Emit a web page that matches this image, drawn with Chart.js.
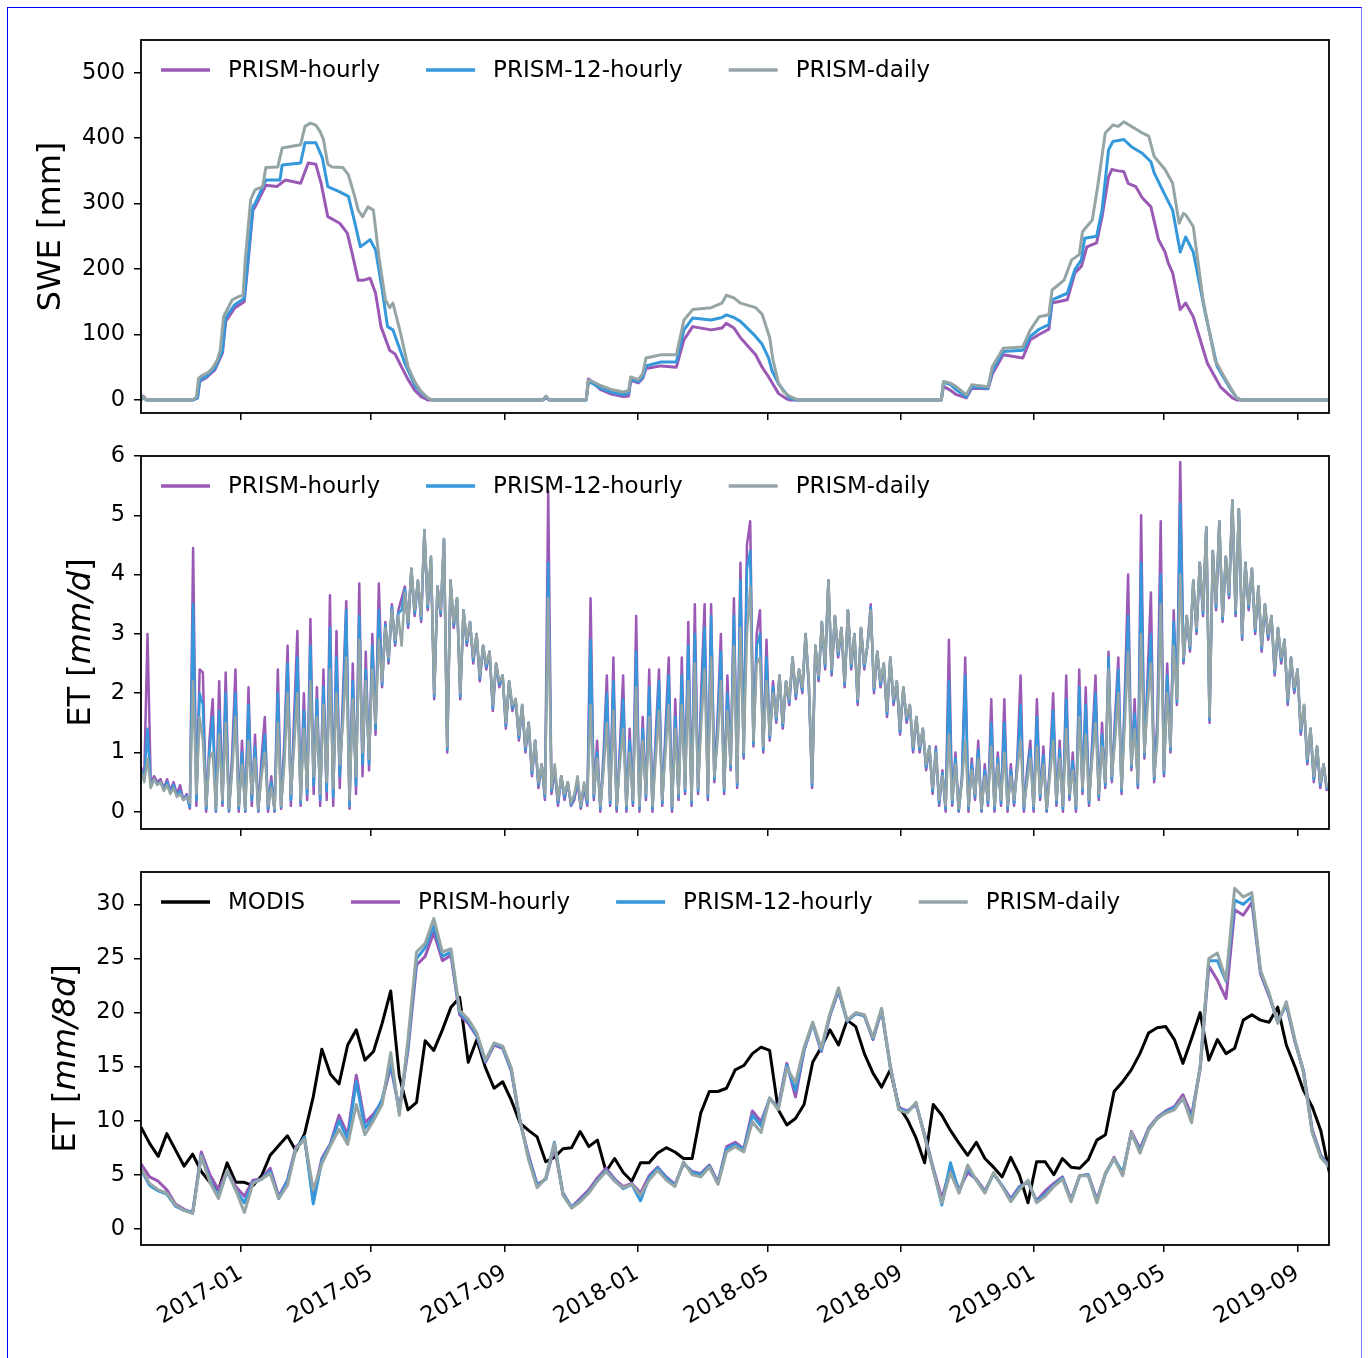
<!DOCTYPE html>
<html>
<head>
<meta charset="utf-8">
<script src="https://cdn.jsdelivr.net/npm/chart.js@4.4.0/dist/chart.umd.min.js"></script>
<style>
  body { margin: 0; background: #fff; }
  #page { position: relative; width: 1370px; height: 1358px; overflow: hidden; background: #fff; }
  #page canvas { position: absolute; left: 0; }
  #frame { position: absolute; left: 7px; top: 7px; width: 1353px; height: 1400px;
           border: 1px solid #0000ff; border-right-color: #7f7fff; }
</style>
</head>
<body>
<div id="page">
  <div id="frame"></div>
  <canvas id="sweChart" width="1370" height="432" style="top:0px"></canvas>
  <canvas id="etChart" width="1370" height="414" style="top:432px"></canvas>
  <canvas id="et8Chart" width="1370" height="512" style="top:846px"></canvas>
</div>
<script>
// x axis: days since 2016-10-01 (water years 2017-2019)
const tickDays = [92, 212, 335, 457, 577, 700, 822, 942, 1065];
const tickLabels = ['2017-01', '2017-05', '2017-09', '2018-01', '2018-05', '2018-09', '2019-01', '2019-05', '2019-09'];
const sweTicks = [0, 100, 200, 300, 400, 500];
const etTicks = [0, 1, 2, 3, 4, 5, 6];
const et8Ticks = [0, 5, 10, 15, 20, 25, 30];

const purple = '#9b59b6', blue = '#3498db', grey = '#95a5a6', black = '#000000';

// SWE [mm], [day, value]
const sweHourly = [[0,0],[2,6],[5,0],[48,0],[52,3],[54,28],[60,34],[68,46],[75,72],[78,120],[86,140],[95,150],[98,200],[103,290],[105,295],[115,328],[125,326],[133,336],[147,331],[154,362],[161,360],[166,330],[172,280],[183,270],[190,255],[195,220],[200,183],[205,183],[211,186],[216,163],[221,112],[229,76],[234,70],[240,50],[246,31],[252,15],[258,5],[264,0],
  [370,0],[373,3],[376,0],[410,0],[412,32],[416,27],[423,16],[433,9],[444,5],[449,6],[451,30],[458,26],[462,33],[465,48],[479,52],[493,50],[500,92],[508,112],[525,107],[535,110],[539,117],[546,110],[552,95],[566,69],[572,50],[578,35],[587,10],[594,2],[597,0],
  [737,0],[739,21],[745,15],[751,8],[760,3],[765,18],[780,17],[784,40],[794,69],[812,64],[819,92],[827,100],[836,108],[839,148],[853,153],[860,194],[866,204],[871,234],[880,240],[885,280],[891,341],[894,352],[900,350],[905,349],[909,331],[916,326],[922,309],[930,295],[937,245],[943,226],[946,209],[950,194],[957,138],[962,148],[969,127],[982,56],[994,20],[1005,3],[1009,0],[1094,0]];
const swe12h = [[0,0],[2,3],[5,0],[48,0],[52,3],[54,30],[60,36],[68,48],[75,75],[78,125],[86,145],[95,155],[98,205],[103,295],[105,300],[115,336],[128,336],[130,359],[147,362],[151,393],[161,393],[167,370],[172,326],[183,318],[191,311],[197,270],[202,234],[207,240],[211,245],[216,229],[222,170],[227,112],[232,107],[243,56],[253,20],[260,8],[265,2],[268,0],
  [370,0],[373,4],[376,0],[410,0],[412,28],[416,25],[423,18],[433,12],[444,8],[449,10],[451,32],[458,28],[462,35],[465,52],[479,58],[493,58],[500,107],[508,125],[525,122],[535,126],[539,130],[546,126],[552,120],[566,97],[572,85],[578,64],[581,45],[587,25],[597,3],[603,0],
  [737,0],[739,27],[745,24],[751,15],[760,5],[765,20],[780,18],[784,45],[794,74],[812,76],[819,97],[827,108],[836,115],[839,153],[853,163],[860,199],[866,214],[869,247],[880,250],[885,290],[891,382],[895,395],[905,398],[912,387],[922,377],[930,364],[933,347],[943,313],[950,290],[957,226],[962,249],[969,226],[980,133],[991,51],[1002,20],[1009,3],[1013,0],[1094,0]];
const sweDaily = [[0,0],[2,5],[5,0],[47,0],[51,4],[53,33],[57,38],[62,42],[66,49],[70,60],[73,76],[76,127],[80,140],[84,153],[90,158],[94,160],[96,214],[101,306],[105,321],[112,326],[115,355],[126,356],[130,385],[147,390],[151,418],[156,423],[161,420],[165,410],[168,398],[172,360],[176,356],[186,355],[191,344],[197,310],[200,290],[204,280],[209,295],[214,290],[219,220],[225,153],[229,141],[232,148],[239,102],[246,50],[252,28],[257,15],[264,3],[268,0],
  [370,0],[373,6],[376,0],[410,0],[412,30],[416,28],[423,22],[433,16],[444,12],[449,14],[451,35],[458,31],[462,40],[465,64],[479,69],[493,69],[500,122],[508,138],[525,141],[535,148],[539,160],[546,156],[552,148],[566,141],[572,131],[579,95],[582,61],[587,26],[592,12],[598,5],[605,0],
  [737,0],[739,28],[745,26],[751,20],[760,8],[765,23],[780,20],[784,51],[794,79],[812,81],[819,107],[827,127],[836,130],[839,168],[850,183],[857,214],[864,222],[867,257],[876,275],[881,326],[888,408],[895,420],[900,418],[905,425],[912,418],[918,412],[922,408],[928,403],[933,372],[943,352],[950,331],[956,270],[960,285],[962,283],[969,265],[978,153],[989,61],[999,31],[1009,3],[1013,0],[1094,0]];

// daily ET [mm/d], one value every 3 days
const etStep = 3;
const etHourly = [
  0.75,0.6,3.0,0.45,0.6,0.5,0.55,0.4,0.55,0.35,0.5,0.3,0.45,0.2,0.3,
  0.05,4.45,0.1,2.4,2.35,0.0,1.2,1.9,0.0,2.2,0.1,2.35,0.0,1.0,2.4,
  0.0,1.2,0.0,2.1,0.1,1.3,0.0,0.9,1.6,0.0,0.6,0.0,2.4,0.05,1.2,
  2.8,0.1,1.6,3.05,0.1,2.0,0.2,3.25,0.3,2.1,0.1,2.4,0.2,3.65,0.1,
  3.05,0.4,2.0,3.55,0.05,2.5,0.3,3.85,0.6,2.7,0.7,3.0,1.3,3.85,2.1,
  3.2,2.5,3.5,2.8,3.4,3.6,3.8,3.1,4.1,3.3,3.9,3.2,4.75,3.4,4.3,
  1.9,3.8,3.3,4.6,1.0,3.9,3.1,3.6,1.9,3.4,2.8,3.2,2.5,3.0,2.2,
  2.8,2.4,2.7,1.7,2.5,2.1,2.3,1.4,2.2,1.7,1.9,1.2,1.8,1.0,1.5,
  0.6,1.2,0.4,0.8,0.2,5.4,0.3,0.7,0.1,0.6,0.2,0.5,0.1,0.2,0.5,
  0.05,0.4,0.1,3.6,0.2,1.2,0.0,1.0,2.3,0.1,2.6,0.0,1.1,2.3,0.0,
  1.4,0.1,3.3,0.0,1.6,0.2,2.4,0.0,1.3,2.4,0.1,1.4,2.6,0.0,1.9,
  0.2,2.6,0.3,3.2,0.1,3.5,0.3,2.1,3.5,0.2,3.5,0.5,1.6,3.0,0.3,
  2.3,0.7,3.6,0.4,4.2,0.9,4.5,4.9,1.1,3.0,3.4,1.0,2.9,1.2,2.2,
  1.5,2.3,1.4,2.2,1.8,2.6,1.9,2.4,2.0,3.0,2.1,0.4,2.8,2.2,3.2,
  2.4,3.9,2.3,3.3,2.6,3.1,2.1,3.4,2.4,3.0,1.8,3.1,2.4,2.8,3.5,
  2.0,2.7,2.1,2.5,1.6,2.6,1.8,2.2,1.3,2.1,1.5,1.8,1.0,1.6,1.0,
  1.4,0.7,1.1,0.3,1.1,0.1,0.7,0.0,2.9,0.1,1.0,0.0,0.6,2.6,0.0,
  0.9,0.2,1.2,0.0,0.8,0.1,1.9,0.0,1.0,0.1,1.9,0.0,0.8,0.1,0.9,
  2.3,0.0,0.7,1.2,0.0,1.9,0.2,1.1,0.0,0.8,2.0,0.1,1.2,0.0,2.3,
  0.2,1.0,0.0,2.4,0.3,2.1,0.1,1.2,2.3,0.2,1.5,0.4,2.7,0.5,1.6,
  2.6,0.3,2.0,4.0,0.7,1.9,0.4,5.0,0.9,2.3,3.7,0.5,1.6,4.9,0.6,
  2.5,1.0,3.4,1.8,5.9,2.5,3.3,2.7,3.9,3.0,4.2,3.3,4.8,1.5,4.4,
  3.4,4.9,3.2,4.3,3.6,5.25,3.3,5.1,2.9,4.2,3.4,4.1,3.0,3.8,2.7,
  3.5,2.9,3.3,2.3,3.1,2.5,2.9,1.8,2.6,2.0,2.4,1.3,1.8,0.8,1.4,
  0.5,1.1,0.4,0.8,0.35];
const et12h = [
  0.7,0.55,1.4,0.42,0.55,0.48,0.5,0.38,0.5,0.32,0.45,0.27,0.35,0.2,0.27,
  0.08,3.5,0.2,2.0,1.8,0.05,1.0,1.6,0.02,1.7,0.15,2.0,0.02,0.8,2.0,
  0.05,1.0,0.02,1.8,0.2,1.1,0.02,0.7,1.3,0.05,0.5,0.02,2.0,0.08,1.0,
  2.5,0.2,1.3,2.6,0.15,1.7,0.3,2.8,0.45,1.9,0.2,2.1,0.35,3.1,0.25,
  2.6,0.6,1.7,3.4,0.1,2.2,0.45,3.3,0.8,2.4,0.8,2.8,1.4,3.4,2.15,
  3.15,2.55,3.45,2.85,3.35,3.4,3.75,3.15,4.1,3.35,3.9,3.25,4.75,3.45,4.3,
  1.95,3.8,3.35,4.6,1.05,3.9,3.15,3.6,1.95,3.4,2.85,3.2,2.55,3.0,2.25,
  2.8,2.45,2.7,1.75,2.5,2.15,2.3,1.45,2.2,1.75,1.9,1.25,1.8,1.05,1.5,
  0.65,1.2,0.45,0.8,0.25,4.2,0.35,0.75,0.15,0.6,0.25,0.5,0.12,0.25,0.55,
  0.08,0.45,0.15,2.9,0.25,1.0,0.05,0.85,2.0,0.15,2.2,0.05,0.95,1.9,0.05,
  1.2,0.15,2.7,0.05,1.4,0.25,2.1,0.05,1.1,2.2,0.15,1.2,2.3,0.05,1.6,
  0.25,2.3,0.35,2.8,0.15,3.0,0.35,1.8,3.1,0.25,3.3,0.55,1.4,2.7,0.35,
  2.0,0.75,3.3,0.45,3.9,0.95,4.1,4.4,1.15,2.8,3.0,1.05,2.6,1.25,2.1,
  1.55,2.3,1.45,2.2,1.85,2.6,1.95,2.4,2.05,3.0,2.15,0.45,2.8,2.25,3.2,
  2.45,3.9,2.35,3.3,2.65,3.1,2.15,3.4,2.45,3.0,1.85,3.1,2.45,2.8,3.45,
  2.05,2.7,2.15,2.5,1.65,2.6,1.85,2.2,1.35,2.1,1.55,1.8,1.05,1.6,1.05,
  1.4,0.75,1.1,0.35,1.05,0.15,0.65,0.05,2.2,0.15,0.9,0.02,0.55,2.3,0.05,
  0.8,0.25,1.05,0.02,0.7,0.15,1.5,0.05,0.9,0.15,1.5,0.05,0.7,0.15,0.8,
  1.8,0.05,0.6,1.05,0.05,1.6,0.25,0.95,0.02,0.7,1.7,0.15,1.05,0.05,1.9,
  0.25,0.85,0.05,2.1,0.35,1.8,0.15,1.05,2.0,0.25,1.3,0.45,2.6,0.55,1.4,
  2.4,0.35,1.8,3.3,0.75,1.65,0.45,4.2,0.95,2.1,3.0,0.55,1.4,4.0,0.65,
  2.3,1.05,3.2,1.85,5.2,2.55,3.3,2.75,3.9,3.05,4.2,3.35,4.8,1.55,4.4,
  3.45,4.9,3.25,4.3,3.65,5.25,3.35,5.1,2.95,4.2,3.45,4.1,3.05,3.8,2.75,
  3.5,2.95,3.3,2.35,3.1,2.55,2.9,1.85,2.6,2.05,2.4,1.35,1.8,0.85,1.4,
  0.55,1.1,0.45,0.8,0.38];
const etDaily = [
  0.7,0.5,0.9,0.4,0.55,0.45,0.5,0.35,0.45,0.3,0.4,0.25,0.3,0.2,0.25,
  0.15,2.2,0.3,1.6,1.2,0.1,0.9,1.0,0.05,1.3,0.2,1.5,0.05,0.7,1.6,
  0.1,0.8,0.05,1.2,0.3,0.9,0.05,0.6,1.0,0.1,0.4,0.05,1.5,0.1,0.8,
  2.0,0.3,1.1,2.0,0.2,1.4,0.4,2.2,0.6,1.6,0.3,1.8,0.5,2.4,0.4,
  2.0,0.8,1.5,2.6,0.2,1.9,0.6,2.9,1.0,2.2,0.9,2.4,1.5,2.9,2.2,
  3.1,2.6,3.4,2.9,3.3,2.8,3.7,3.2,4.1,3.4,3.9,3.3,4.75,3.5,4.3,
  2.0,3.8,3.4,4.6,1.1,3.9,3.2,3.6,2.0,3.4,2.9,3.2,2.6,3.0,2.3,
  2.8,2.5,2.7,1.8,2.5,2.2,2.3,1.5,2.2,1.8,1.9,1.3,1.8,1.1,1.5,
  0.7,1.2,0.5,0.8,0.3,3.6,0.4,0.8,0.2,0.6,0.3,0.5,0.15,0.3,0.6,
  0.1,0.5,0.2,1.8,0.3,0.9,0.1,0.7,1.5,0.2,1.7,0.1,0.8,1.4,0.1,
  1.0,0.2,2.1,0.1,1.2,0.3,1.6,0.1,0.9,1.7,0.2,1.0,1.8,0.1,1.4,
  0.3,1.8,0.4,2.2,0.2,2.5,0.4,1.5,2.4,0.3,2.6,0.6,1.2,2.2,0.4,
  1.7,0.8,2.8,0.5,3.1,1.0,3.0,3.8,1.2,2.5,2.6,1.1,2.2,1.3,2.0,
  1.6,2.3,1.5,2.2,1.9,2.6,2.0,2.4,2.1,3.0,2.2,0.5,2.8,2.3,3.2,
  2.5,3.9,2.4,3.3,2.7,3.1,2.2,3.4,2.5,3.0,1.9,3.1,2.5,2.8,3.4,
  2.1,2.7,2.2,2.5,1.7,2.6,1.9,2.2,1.4,2.1,1.6,1.8,1.1,1.6,1.1,
  1.4,0.8,1.1,0.4,1.0,0.2,0.6,0.1,1.3,0.2,0.8,0.05,0.5,1.2,0.1,
  0.7,0.3,0.9,0.05,0.6,0.2,1.1,0.1,0.8,0.2,1.0,0.1,0.6,0.2,0.7,
  1.2,0.1,0.5,0.9,0.1,1.1,0.3,0.8,0.05,0.6,1.2,0.2,0.9,0.1,1.4,
  0.3,0.7,0.1,1.6,0.4,1.3,0.2,0.9,1.5,0.3,1.1,0.5,2.4,0.6,1.2,
  2.0,0.4,1.5,2.7,0.8,1.4,0.5,3.0,1.0,1.8,2.5,0.6,1.2,3.5,0.7,
  2.0,1.1,2.8,1.9,4.0,2.6,3.3,2.8,3.9,3.1,4.2,3.4,4.8,1.6,4.4,
  3.5,4.9,3.3,4.3,3.7,5.25,3.4,5.1,3.0,4.2,3.5,4.1,3.1,3.8,2.8,
  3.5,3.0,3.3,2.4,3.1,2.6,2.9,1.9,2.6,2.1,2.4,1.4,1.8,0.9,1.4,
  0.6,1.1,0.5,0.8,0.4];

// 8-day ET [mm/8d], 46 composites per year
const et8Step = 7.93;
const et8Modis = [
  9.4,7.9,6.7,8.8,7.3,5.8,6.9,5.3,4.3,3.6,
  6.1,4.3,4.3,4.0,4.9,6.8,7.7,8.6,7.2,8.8,
  12.2,16.6,14.3,13.4,17.0,18.4,15.6,16.4,19.0,22.0,
  14.1,11.0,11.7,17.4,16.5,18.4,20.5,21.4,15.4,17.5,
  14.9,13.0,13.6,11.9,9.8,9.1,8.5,6.2,6.6,7.4,
  7.5,9.0,7.6,8.2,5.3,6.5,5.2,4.4,6.1,6.1,
  7.0,7.5,7.1,6.5,6.5,10.7,12.7,12.7,13.0,14.7,
  15.1,16.2,16.8,16.5,11.0,9.6,10.2,11.5,15.4,16.8,
  18.4,17.0,19.3,18.7,16.2,14.4,13.1,14.7,11.3,10.1,
  8.4,6.1,11.5,10.5,9.1,7.9,6.8,8.0,6.5,5.7,
  4.8,6.6,5.0,2.4,6.2,6.2,5.0,6.5,5.7,5.6,
  6.4,8.2,8.7,12.7,13.6,14.7,16.2,18.1,18.6,18.7,
  17.5,15.3,17.6,20.0,15.6,17.5,16.2,16.7,19.3,19.8,
  19.3,19.1,20.5,17.0,15.0,12.8,11.3,9.1,5.2];
const et8Hourly = [
  6.0,4.8,4.4,3.6,2.3,1.8,1.5,7.1,5.0,3.6,
  5.4,3.9,3.0,4.5,4.6,5.6,3.0,4.5,7.6,8.2,
  3.0,6.5,7.9,10.5,8.7,14.2,9.8,10.6,11.8,15.0,
  11.0,16.5,24.4,25.2,27.4,24.8,25.3,19.8,19.0,17.8,
  15.4,17.0,16.7,14.6,10.0,6.8,4.1,4.6,7.5,3.3,
  2.0,2.8,3.6,4.7,5.6,4.6,3.9,4.2,3.3,4.9,
  5.7,4.8,4.1,6.0,5.3,5.1,5.9,4.3,7.6,8.0,
  7.4,10.9,9.9,12.0,11.3,15.3,12.2,16.5,19.0,16.4,
  19.7,22.0,19.2,19.9,19.7,17.5,20.2,15.1,11.2,10.9,
  11.5,8.7,5.6,2.8,5.6,3.6,5.2,4.6,3.5,5.1,
  4.0,2.8,3.9,4.3,2.6,3.5,4.2,4.8,2.7,4.9,
  5.0,2.7,5.1,6.6,5.0,9.0,7.4,9.3,10.3,10.9,
  11.3,12.4,10.5,14.8,24.3,23.0,21.3,29.5,29.0,30.2,
  23.6,21.5,19.2,20.7,17.3,14.6,9.2,6.8,5.8];
const et812h = [
  5.5,4.0,3.5,3.2,2.1,1.7,1.5,6.8,4.5,3.0,
  5.3,3.6,2.4,4.3,4.6,5.3,2.8,4.4,7.4,8.5,
  2.3,6.3,7.8,10.0,8.3,13.6,9.3,10.3,12.0,15.4,
  10.8,17.0,25.0,26.0,28.0,25.2,25.6,20.0,19.2,17.9,
  15.5,17.1,16.8,14.7,10.0,6.6,4.0,4.6,8.0,3.2,
  2.0,2.6,3.4,4.5,5.4,4.5,3.7,4.1,2.6,4.7,
  5.6,4.7,4.0,6.1,5.2,5.0,5.8,4.2,7.4,7.8,
  7.3,10.5,9.5,12.1,11.1,15.1,12.8,16.6,19.0,16.5,
  19.8,22.1,19.2,19.9,19.7,17.6,20.3,15.0,11.1,10.8,
  11.6,8.6,5.5,2.2,6.1,3.4,5.6,4.5,3.4,5.1,
  4.0,2.6,3.8,4.4,2.5,3.2,4.0,4.7,2.6,4.9,
  5.0,2.5,5.1,6.5,5.2,8.8,7.2,9.2,10.2,10.8,
  11.2,12.0,10.2,15.0,24.8,24.8,22.9,30.4,30.0,30.7,
  23.8,21.7,19.1,20.8,17.4,14.5,9.0,6.7,5.7];
const et8Daily = [
  5.6,4.2,3.6,3.3,2.2,1.7,1.4,6.7,4.3,2.8,
  5.4,3.6,1.5,4.2,4.6,5.1,2.8,4.0,7.4,8.3,
  3.6,6.0,7.7,9.2,7.8,11.5,8.7,10.0,11.5,16.3,
  10.5,17.5,25.6,26.4,28.7,25.6,25.9,20.2,19.4,18.1,
  15.6,17.2,16.9,14.9,10.1,6.4,3.8,4.7,7.9,3.1,
  1.9,2.5,3.3,4.4,5.3,4.4,3.8,4.1,3.1,4.5,
  5.4,4.5,3.9,6.2,5.0,4.8,5.7,4.1,7.1,7.6,
  7.1,9.9,8.9,12.1,11.0,14.9,13.5,16.8,19.1,16.7,
  19.9,22.3,19.3,20.0,19.8,17.7,20.4,15.0,11.0,10.7,
  11.7,8.5,5.4,2.4,5.2,3.3,5.9,4.5,3.3,5.2,
  3.9,2.5,3.6,4.5,2.4,3.0,3.9,4.6,2.5,4.9,
  4.9,2.4,5.2,6.5,4.9,8.9,7.0,9.1,10.2,10.7,
  11.0,12.1,9.8,15.0,25.0,25.5,23.0,31.5,30.7,31.1,
  23.9,21.8,19.0,21.0,17.5,14.4,8.9,6.6,5.7];

const fromPairs = arr => arr.map(p => ({x: p[0], y: p[1]}));
const fromSteps = (arr, step) => arr.map((v, i) => ({x: i * step, y: v}));

function line(label, color, data, width, order) {
  return {label, data, borderColor: color, backgroundColor: color, borderWidth: width,
          pointRadius: 0, tension: 0, order, borderJoinStyle: 'round'};
}

// legend inside the plot, top left, no frame
const inLegend = {
  id: 'inLegend',
  afterDatasetsDraw(chart) {
    const ctx = chart.ctx, a = chart.chartArea;
    ctx.save();
    ctx.font = '23px "DejaVu Sans"';
    ctx.textBaseline = 'middle';
    let x = a.left + 20;
    const y = a.top + 30;
    chart.data.datasets.forEach(ds => {
      ctx.strokeStyle = ds.borderColor;
      ctx.lineWidth = 3.5;
      ctx.beginPath(); ctx.moveTo(x, y); ctx.lineTo(x + 49, y); ctx.stroke();
      ctx.fillStyle = '#000';
      ctx.fillText(ds.label, x + 67, y + 1);
      x += 67 + ctx.measureText(ds.label).width + 46;
    });
    ctx.restore();
  }
};

const frame = {
  id: 'frame',
  afterDraw(chart) {
    const ctx = chart.ctx, a = chart.chartArea;
    ctx.save();
    ctx.strokeStyle = '#000';
    ctx.lineWidth = 1.8;
    ctx.strokeRect(a.left, a.top, a.right - a.left, a.bottom - a.top);
    ctx.restore();
  }
};

// y title with italic units
function yTitle(parts, x) {
  return {
    id: 'yTitle',
    afterDraw(chart) {
      const ctx = chart.ctx, a = chart.chartArea;
      const fontOf = p => (p.italic ? 'italic ' : '') + '32px "DejaVu Sans"';
      ctx.save();
      ctx.translate(x, (a.top + a.bottom) / 2);
      ctx.rotate(-Math.PI / 2);
      ctx.textBaseline = 'middle';
      ctx.fillStyle = '#000';
      let total = 0;
      parts.forEach(p => { ctx.font = fontOf(p); total += ctx.measureText(p.text).width; });
      let cx = -total / 2;
      parts.forEach(p => { ctx.font = fontOf(p); ctx.fillText(p.text, cx, 0); cx += ctx.measureText(p.text).width; });
      ctx.restore();
    }
  };
}

function timeAxis(showLabels, height) {
  return {
    type: 'linear', min: 0, max: 1094,
    afterBuildTicks: s => { s.ticks = tickDays.map(v => ({value: v})); },
    afterFit: s => { s.height = height; },
    border: {display: false},
    grid: {drawOnChartArea: false, drawTicks: true, tickLength: 7, color: '#000', lineWidth: 1.5},
    ticks: {display: showLabels, autoSkip: false, minRotation: 30, maxRotation: 30, padding: 8,
            color: '#000', font: {family: 'DejaVu Sans', size: 22.5},
            callback: (v, i) => tickLabels[i]}
  };
}

function valueAxis(min, max, ticks) {
  return {
    type: 'linear', min, max,
    afterBuildTicks: s => { s.ticks = ticks.map(v => ({value: v})); },
    afterFit: s => { s.width = 141; s.paddingTop = 0; s.paddingBottom = 0; },
    border: {display: false},
    grid: {drawOnChartArea: false, drawTicks: true, tickLength: 7, color: '#000', lineWidth: 1.5},
    ticks: {padding: 9, color: '#000', font: {family: 'DejaVu Sans', size: 22.5}}
  };
}

function makeChart(id, datasets, padTop, xHeight, showX, yAxis, title) {
  return new Chart(document.getElementById(id), {
    type: 'line',
    data: {datasets},
    options: {
      responsive: false, animation: false, events: [],
      layout: {padding: {top: padTop, right: 41, left: 0, bottom: 0}},
      scales: {x: timeAxis(showX, xHeight), y: yAxis},
      plugins: {legend: {display: false}, tooltip: {enabled: false}}
    },
    plugins: [frame, inLegend, title]
  });
}

makeChart('sweChart', [
  line('PRISM-hourly', purple, fromPairs(sweHourly), 3, 2),
  line('PRISM-12-hourly', blue, fromPairs(swe12h), 3, 1),
  line('PRISM-daily', grey, fromPairs(sweDaily), 3, 0)
], 40, 19, false, valueAxis(-20, 550, sweTicks), yTitle([{text: 'SWE [mm]'}], 52));

makeChart('etChart', [
  line('PRISM-hourly', purple, fromSteps(etHourly, etStep), 2.5, 2),
  line('PRISM-12-hourly', blue, fromSteps(et12h, etStep), 2.5, 1),
  line('PRISM-daily', grey, fromSteps(etDaily, etStep), 2.5, 0)
], 24, 17, false, valueAxis(-0.29, 6, etTicks),
  yTitle([{text: 'ET ['}, {text: 'mm/d', italic: true}, {text: ']'}], 82));

makeChart('et8Chart', [
  line('MODIS', black, fromSteps(et8Modis, et8Step), 3, 3),
  line('PRISM-hourly', purple, fromSteps(et8Hourly, et8Step), 3, 2),
  line('PRISM-12-hourly', blue, fromSteps(et812h, et8Step), 3, 1),
  line('PRISM-daily', grey, fromSteps(et8Daily, et8Step), 3, 0)
], 26, 113, true, valueAxis(-1.5, 33, et8Ticks),
  yTitle([{text: 'ET ['}, {text: 'mm/8d', italic: true}, {text: ']'}], 67));
</script>
</body>
</html>
